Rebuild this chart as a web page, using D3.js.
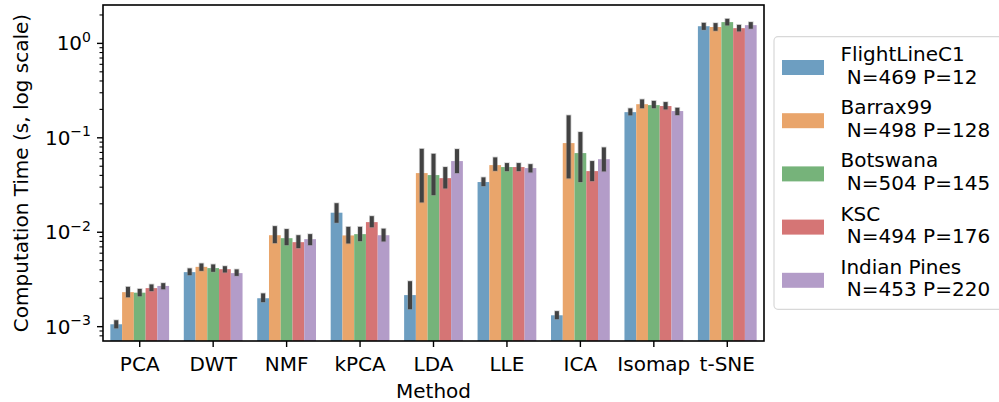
<!DOCTYPE html>
<html>
<head>
<meta charset="utf-8">
<script src="https://cdn.jsdelivr.net/npm/d3@7"></script>
<style>
  body { margin: 0; background: #fff; }
  svg { font-family: "DejaVu Sans", sans-serif; }
</style>
</head>
<body>
<svg id="chart" width="999" height="402"></svg>
<script>
const methods = ['PCA', 'DWT', 'NMF', 'kPCA', 'LDA', 'LLE', 'ICA', 'Isomap', 't-SNE'];
const datasets = ['FlightLineC1', 'Barrax99', 'Botswana', 'KSC', 'Indian Pines'];
const datasetInfo = ['N=469 P=12', 'N=498 P=128', 'N=504 P=145', 'N=494 P=176', 'N=453 P=220'];
const colors = ['#6d9ec1', '#e9a56b', '#76b37a', '#d57575', '#b39cc8'];

// mean time per method (rows) and dataset (columns), seconds
const means = [
  [0.00106, 0.00232, 0.00229, 0.00256, 0.00270],
  [0.00378, 0.00430, 0.00417, 0.00406, 0.00369],
  [0.00200, 0.00930, 0.00865, 0.00785, 0.00845],
  [0.0161, 0.00925, 0.00955, 0.0128, 0.00930],
  [0.00216, 0.0423, 0.0403, 0.0374, 0.0567],
  [0.0340, 0.0514, 0.0490, 0.0490, 0.0478],
  [0.00132, 0.0879, 0.0689, 0.0444, 0.0594],
  [0.187, 0.227, 0.222, 0.217, 0.192],
  [1.52, 1.49, 1.68, 1.45, 1.56]
];
// error bar low / high
const errLow = [
  [0.00096, 0.00205, 0.00210, 0.00238, 0.00249],
  [0.00351, 0.00390, 0.00381, 0.00375, 0.00345],
  [0.00182, 0.00767, 0.00730, 0.00679, 0.00730],
  [0.0126, 0.00761, 0.00805, 0.0113, 0.00799],
  [0.00153, 0.0207, 0.0247, 0.0291, 0.0423],
  [0.0308, 0.0447, 0.0444, 0.0444, 0.0430],
  [0.00120, 0.0372, 0.0340, 0.0348, 0.0441],
  [0.173, 0.206, 0.206, 0.200, 0.174],
  [1.39, 1.36, 1.55, 1.34, 1.43]
];
const errHigh = [
  [0.00117, 0.00264, 0.00251, 0.00280, 0.00289],
  [0.00414, 0.00467, 0.00456, 0.00437, 0.00404],
  [0.00225, 0.0116, 0.0108, 0.00930, 0.00955],
  [0.0203, 0.0114, 0.0114, 0.0148, 0.0109],
  [0.00303, 0.0764, 0.0677, 0.0490, 0.0759],
  [0.0381, 0.0620, 0.0540, 0.0540, 0.0526],
  [0.00146, 0.173, 0.115, 0.0567, 0.0791],
  [0.205, 0.255, 0.246, 0.239, 0.208],
  [1.65, 1.64, 1.82, 1.57, 1.68]
];
const majorTicks = [0.001, 0.01, 0.1, 1];
const majorExp = ['−3', '−2', '−1', '0'];

const pLeft = 103, pRight = 764, pTop = 5, pBottom = 341;
const fs = 20;
const svg = d3.select('#chart');

const x = d3.scaleBand().domain(methods).range([pLeft, pRight]).padding(0);
const xi = d3.scaleBand().domain(datasets).range([x.bandwidth() * 0.1, x.bandwidth() * 0.9]);
const y = d3.scaleLog().domain([7.05e-4, 2.55]).range([pBottom, pTop]);

const rows = [];
methods.forEach((m, i) => {
  datasets.forEach((d, j) => {
    rows.push({m: m, d: d, j: j, v: means[i][j], lo: errLow[i][j], hi: errHigh[i][j]});
  });
});

// bars
svg.append('g').selectAll('rect').data(rows).join('rect')
  .attr('x', r => x(r.m) + xi(r.d))
  .attr('width', xi.bandwidth())
  .attr('y', r => y(r.v))
  .attr('height', r => pBottom - y(r.v))
  .attr('fill', r => colors[r.j]);

// error bars
const eb = svg.append('g');
eb.selectAll('line.halo').data(rows).join('line')
  .attr('class', 'halo')
  .attr('x1', r => x(r.m) + xi(r.d) + xi.bandwidth() / 2)
  .attr('x2', r => x(r.m) + xi(r.d) + xi.bandwidth() / 2)
  .attr('y1', r => y(r.lo) + 0.8)
  .attr('y2', r => y(r.hi) - 0.8)
  .attr('stroke', '#999')
  .attr('stroke-opacity', 0.45)
  .attr('stroke-width', 5.6);
eb.selectAll('line.err').data(rows).join('line')
  .attr('class', 'err')
  .attr('x1', r => x(r.m) + xi(r.d) + xi.bandwidth() / 2)
  .attr('x2', r => x(r.m) + xi(r.d) + xi.bandwidth() / 2)
  .attr('y1', r => y(r.lo))
  .attr('y2', r => y(r.hi))
  .attr('stroke', '#424242')
  .attr('stroke-width', 4);

// y axis ticks
const minor = y.ticks().filter(t => majorTicks.indexOf(t) < 0);
svg.append('g').selectAll('line').data(minor).join('line')
  .attr('x1', pLeft - 3.5).attr('x2', pLeft)
  .attr('y1', d => y(d)).attr('y2', d => y(d))
  .attr('stroke', '#000').attr('stroke-width', 1.1);
svg.append('g').selectAll('line').data(majorTicks).join('line')
  .attr('x1', pLeft - 6).attr('x2', pLeft)
  .attr('y1', d => y(d)).attr('y2', d => y(d))
  .attr('stroke', '#000').attr('stroke-width', 1.4);

const yl = svg.append('g').selectAll('text').data(majorTicks).join('text')
  .attr('x', pLeft - 12)
  .attr('y', d => y(d) + 7)
  .attr('text-anchor', 'end')
  .attr('font-size', fs);
yl.append('tspan').text('10');
yl.append('tspan').attr('dy', -8.5).attr('font-size', 14).text((d, i) => majorExp[i]);

// x axis ticks
svg.append('g').selectAll('line').data(methods).join('line')
  .attr('x1', d => x(d) + x.bandwidth() / 2).attr('x2', d => x(d) + x.bandwidth() / 2)
  .attr('y1', pBottom).attr('y2', pBottom + 6)
  .attr('stroke', '#000').attr('stroke-width', 1.4);
svg.append('g').selectAll('text').data(methods).join('text')
  .attr('x', d => x(d) + x.bandwidth() / 2)
  .attr('y', 371)
  .attr('text-anchor', 'middle')
  .attr('font-size', fs)
  .text(d => d);

// frame
svg.append('rect')
  .attr('x', pLeft).attr('y', pTop)
  .attr('width', pRight - pLeft).attr('height', pBottom - pTop)
  .attr('fill', 'none').attr('stroke', '#000').attr('stroke-width', 1.6);

// axis titles
svg.append('text')
  .attr('x', (pLeft + pRight) / 2).attr('y', 397.5)
  .attr('text-anchor', 'middle').attr('font-size', fs)
  .text('Method');
svg.append('text')
  .attr('transform', `translate(28,${(pTop + pBottom) / 2}) rotate(-90)`)
  .attr('text-anchor', 'middle').attr('font-size', fs)
  .text('Computation Time (s, log scale)');

// legend
const lg = svg.append('g');
lg.append('rect')
  .attr('x', 774).attr('y', 36.7).attr('width', 240).attr('height', 272.6)
  .attr('rx', 4).attr('fill', '#fff').attr('fill-opacity', 0.8)
  .attr('stroke', '#d8d8d8').attr('stroke-width', 1.2);
const item = lg.selectAll('g').data(datasets).join('g')
  .attr('transform', (d, i) => `translate(0,${i * 53.2})`);
item.append('rect')
  .attr('x', 782).attr('y', 60).attr('width', 42).attr('height', 15)
  .attr('fill', (d, i) => colors[i]);
item.append('text')
  .attr('x', 840.5).attr('y', 61).attr('font-size', fs)
  .text(d => d);
item.append('text')
  .attr('x', 840.5).attr('y', 83.5).attr('font-size', fs)
  .attr('xml:space', 'preserve')
  .style('white-space', 'pre')
  .text((d, i) => ' ' + datasetInfo[i]);
</script>
</body>
</html>
